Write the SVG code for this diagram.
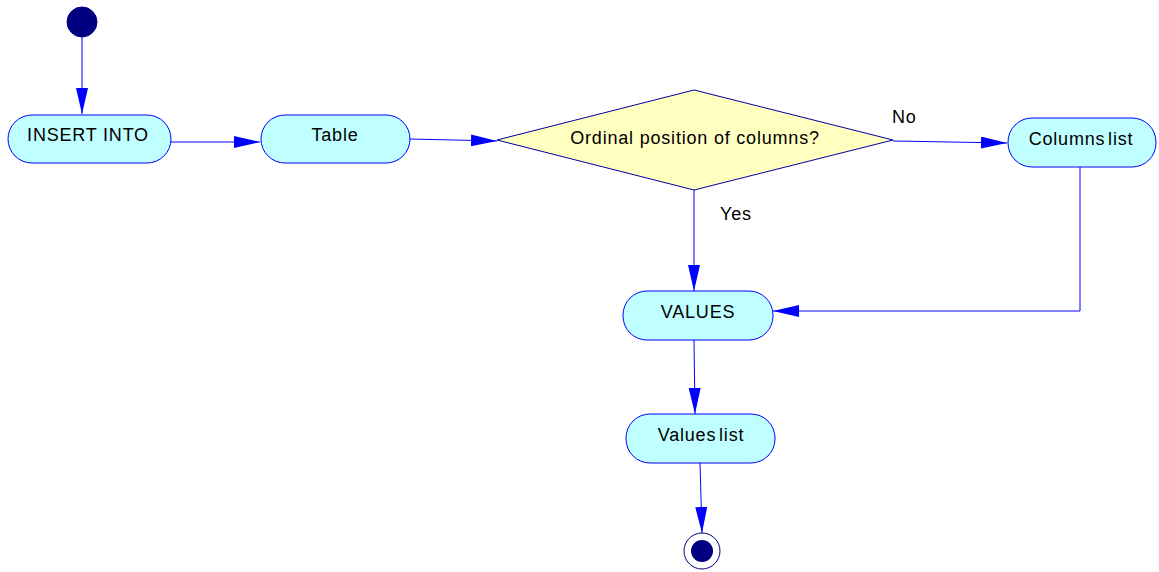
<svg xmlns="http://www.w3.org/2000/svg" width="1159" height="572" viewBox="0 0 1159 572">
<style>
.box{fill:#c0ffff;stroke:#0000ff;stroke-width:1}
.dia{fill:#ffffc0;stroke:#0000a0;stroke-width:1}
.edge{fill:none;stroke:#0000ff;stroke-width:1}
text{font-family:"Liberation Sans",Arial,sans-serif;font-size:18px;letter-spacing:0.8px;fill:#000}
.c{text-anchor:middle}
</style>
<defs>
<marker id="ah" markerUnits="userSpaceOnUse" markerWidth="26" markerHeight="12" refX="26" refY="6" orient="auto" viewBox="0 0 26 12">
<path d="M0,0 L26,6 L0,12 z" fill="#0000ff"/>
</marker>
</defs>
<rect width="1159" height="572" fill="#ffffff"/>
<g id="edges">
<path class="edge" d="M82,37 L82,114" marker-end="url(#ah)"/>
<path class="edge" d="M171,142 L260,142" marker-end="url(#ah)"/>
<path class="edge" d="M410,139 L497,141" marker-end="url(#ah)"/>
<path class="edge" d="M893,141 L1007,143" marker-end="url(#ah)"/>
<path class="edge" d="M694,190 L694,291" marker-end="url(#ah)"/>
<path class="edge" d="M1080,167 L1080,311 L773,311" marker-end="url(#ah)"/>
<path class="edge" d="M694,340 L695,414" marker-end="url(#ah)"/>
<path class="edge" d="M700,463 L702,533" marker-end="url(#ah)"/>
<text x="892" y="123">No</text>
<text x="720" y="220">Yes</text>
</g>
<g id="start"><circle cx="82" cy="22" r="15" fill="#000080" stroke="#000080"/></g>
<g id="insert"><rect class="box" x="8" y="115" width="163" height="48" rx="24"/><text class="c" x="88" y="141">INSERT INTO</text></g>
<g id="table"><rect class="box" x="261" y="115" width="149" height="48" rx="24"/><text class="c" x="335" y="141">Table</text></g>
<g id="decision"><polygon class="dia" points="497,140 694,90 893,140 694,190"/><text class="c" x="695" y="144">Ordinal position of columns?</text></g>
<g id="columns"><rect class="box" x="1008" y="118" width="148" height="49" rx="24"/><text class="c" x="1081" y="145" word-spacing="-3">Columns list</text></g>
<g id="values"><rect class="box" x="623" y="291" width="150" height="49" rx="24"/><text class="c" x="698" y="318">VALUES</text></g>
<g id="valueslist"><rect class="box" x="626" y="414" width="149" height="49" rx="24"/><text class="c" x="701" y="441" word-spacing="-3">Values list</text></g>
<g id="end"><circle cx="702" cy="551" r="18" fill="#ffffff" stroke="#000080"/><circle cx="702" cy="551" r="11" fill="#000080"/></g>
</svg>
